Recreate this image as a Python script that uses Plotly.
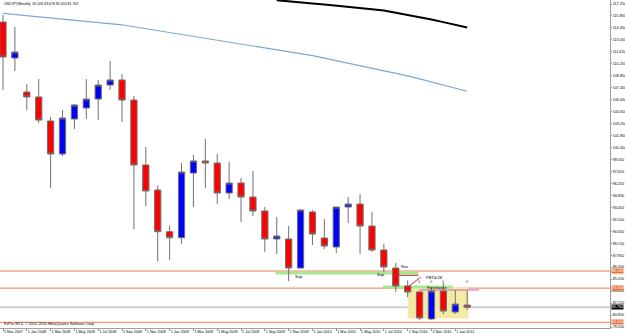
import plotly.graph_objects as go

# ---------------- data ----------------
months = ["Nov 2007", "Dec 2007", "Jan 2008", "Feb 2008", "Mar 2008", "Apr 2008", "May 2008", "Jun 2008",
          "Jul 2008", "Aug 2008", "Sep 2008", "Oct 2008", "Nov 2008", "Dec 2008", "Jan 2009", "Feb 2009",
          "Mar 2009", "Apr 2009", "May 2009", "Jun 2009", "Jul 2009", "Aug 2009", "Sep 2009", "Oct 2009",
          "Nov 2009", "Dec 2009", "Jan 2010", "Feb 2010", "Mar 2010", "Apr 2010", "May 2010", "Jun 2010",
          "Jul 2010", "Aug 2010", "Sep 2010", "Oct 2010", "Nov 2010", "Dec 2010", "Jan 2011", "Feb 2011"]

opens = [115.14, 110.93, 106.95, 106.37, 103.56, 99.70, 103.79, 105.08, 106.13, 107.77, 108.36, 106.01,
         98.41, 95.48, 90.60, 89.90, 97.47, 98.88, 98.64, 95.13, 96.30, 94.66, 93.03, 89.75,
         89.75, 86.35, 92.91, 89.87, 88.81, 93.49, 93.84, 91.27, 88.46, 86.35, 84.25, 83.55,
         80.39, 83.66, 81.21, 82.02]
highs = [115.96, 114.56, 107.89, 108.47, 104.03, 104.85, 105.55, 108.47, 108.36, 110.58, 109.06, 106.48,
         100.51, 96.00, 91.30, 98.64, 99.58, 101.45, 99.70, 98.76, 96.89, 97.71, 93.49, 92.32,
         91.27, 93.20, 93.14, 92.09, 93.50, 94.66, 95.01, 92.91, 89.16, 86.94, 84.90, 83.70,
         84.10, 84.60, 83.78, 83.68]
lows = [107.19, 109.41, 104.84, 103.30, 95.72, 99.46, 102.62, 103.79, 103.67, 107.19, 103.44, 90.90,
        93.60, 87.10, 87.30, 89.20, 93.50, 95.72, 93.84, 94.43, 91.74, 92.44, 88.23, 87.99,
        84.83, 86.30, 89.05, 88.58, 88.11, 91.62, 87.99, 88.23, 85.89, 83.55, 82.96, 80.25,
        80.27, 80.97, 80.97, 81.44]
closes = [111.05, 111.63, 106.37, 103.67, 99.70, 103.91, 105.43, 106.13, 107.77, 108.36, 106.01, 98.41,
          95.37, 90.60, 89.90, 97.59, 98.88, 98.64, 95.13, 96.30, 94.66, 93.03, 89.75, 90.10,
          86.35, 93.14, 90.33, 88.93, 93.49, 93.84, 91.27, 88.46, 86.47, 84.25, 83.55, 80.50,
          83.66, 81.32, 82.14, 81.76]

ma_blue = [116.16, 116.03, 115.90, 115.78, 115.65, 115.51, 115.38, 115.25, 115.12, 114.98, 114.82, 114.59,
           114.37, 114.14, 113.91, 113.69, 113.47, 113.25, 113.03, 112.80, 112.59, 112.37, 112.16, 111.94,
           111.73, 111.50, 111.21, 110.92, 110.63, 110.33, 110.04, 109.75, 109.46, 109.16, 108.84, 108.48,
           108.12, 107.76, 107.41, 107.04]
ma_black = [None] * 23 + [117.70, 117.55, 117.42, 117.31, 117.19, 117.07, 116.93, 116.79, 116.65,
                          116.48, 116.23, 115.99, 115.74, 115.44, 115.13, 114.83, 114.51]

x_tick_labels = ["1 Nov 2007", "1 Jan 2008", "1 Mar 2008", "1 May 2008", "1 Jul 2008", "1 Sep 2008",
                 "1 Nov 2008", "1 Jan 2009", "1 Mar 2009", "1 May 2009", "1 Jul 2009", "1 Sep 2009",
                 "1 Nov 2009", "1 Jan 2010", "1 Mar 2010", "1 May 2010", "1 Jul 2010", "1 Sep 2010",
                 "1 Nov 2010", "1 Jan 2011"]
y_tick_values = [117.25, 115.85, 114.45, 113.05, 111.65, 110.25, 108.85, 107.45, 106.05, 104.65, 103.25,
                 101.85, 100.45, 99.05, 97.65, 96.25, 94.85, 93.45, 92.05, 90.65, 89.25, 87.85, 86.45,
                 85.05, 83.65, 82.25, 80.85, 79.45]

level_lines = [86.0, 84.0, 80.0]       # orange horizontal lines
bid_price = 81.762
title_text = "USDJPY,Monthly  82.026 83.678 81.610 81.762"
copyright_text = "FxPro MT4, \u00a9 2001-2010 MetaQuotes Software Corp."

xs = list(range(len(months)))

FONT = "Liberation Sans"
TXT = "#000000"
FS = 3.7

fig = go.Figure()

fig.add_trace(go.Candlestick(
    x=xs, open=opens, high=highs, low=lows, close=closes,
    increasing=dict(fillcolor="#0000FF", line=dict(color="#707070", width=1)),
    decreasing=dict(fillcolor="#FF0000", line=dict(color="#707070", width=1)),
    whiskerwidth=0, hoverinfo="skip", showlegend=False))

fig.add_trace(go.Scatter(x=xs, y=ma_blue, mode="lines",
                         line=dict(color="#7FA6CE", width=1.2), hoverinfo="skip", showlegend=False))
fig.add_trace(go.Scatter(x=xs, y=ma_black, mode="lines",
                         line=dict(color="#000000", width=2), hoverinfo="skip", showlegend=False))

shapes = []
shapes.append(dict(type="rect", xref="x", yref="y", x0=34, x1=39.1, y0=80.45, y1=84.1,
                   fillcolor="#F3EAA4", line=dict(width=0), layer="below"))
shapes.append(dict(type="line", xref="x", yref="y", x0=22.9, x1=34.9, y0=85.78, y1=85.78,
                   line=dict(color="#A8E890", width=3), layer="below"))
shapes.append(dict(type="line", xref="x", yref="y", x0=31.9, x1=37.8, y0=84.13, y1=84.13,
                   line=dict(color="#A8E890", width=3), layer="below"))
for lv in level_lines:
    shapes.append(dict(type="line", xref="paper", yref="y", x0=0, x1=1, y0=lv, y1=lv,
                       line=dict(color="#EE7C4C", width=1), layer="below"))
shapes.append(dict(type="line", xref="paper", yref="y", x0=0, x1=1, y0=bid_price, y1=bid_price,
                   line=dict(color="#CDD0D6", width=2), layer="below"))
shapes.append(dict(type="line", xref="x", yref="y", x0=35, x1=40, y0=83.78, y1=83.78,
                   line=dict(color="#C860C8", width=1), layer="below"))
shapes.append(dict(type="line", xref="x", yref="y", x0=32.9, x1=34.9, y0=85.5, y1=85.5,
                   line=dict(color="#B03030", width=1)))
shapes.append(dict(type="line", xref="x", yref="y", x0=34.0, x1=35.1, y0=84.1, y1=85.3,
                   line=dict(color="#B03030", width=1)))

annotations = []
annotations.append(dict(xref="paper", yref="paper", x=0.004, y=0.988, text=title_text,
                        showarrow=False, xanchor="left", yanchor="middle",
                        font=dict(family=FONT, size=3.5, color=TXT)))
annotations.append(dict(xref="paper", yref="paper", x=0.004, y=0.012, text=copyright_text,
                        showarrow=False, xanchor="left", yanchor="middle",
                        font=dict(family=FONT, size=3.8, color=TXT)))
for txt, xx, yy in [("Sup", 24.9, 85.4), ("Sup", 31.8, 85.6), ("Res", 33.7, 86.5),
                    ("PBT&CB", 36.2, 85.2), ("Resistance", 36.5, 84.1)]:
    annotations.append(dict(xref="x", yref="y", x=xx, y=yy, text=txt, showarrow=False,
                            xanchor="center", yanchor="middle",
                            font=dict(family=FONT, size=4, color=TXT)))
for xx in [35, 36, 37, 39]:
    annotations.append(dict(xref="x", yref="y", x=xx, y=84.75, text="0", showarrow=False,
                            font=dict(family=FONT, size=4, color="#444444")))
for lv in level_lines:
    annotations.append(dict(xref="paper", yref="y", x=1.0, y=lv, text="%.3f" % lv, showarrow=False,
                            xanchor="left", yanchor="middle", xshift=1, bgcolor="#E8703A",
                            borderpad=0, font=dict(family=FONT, size=FS, color="#FFFFFF")))
annotations.append(dict(xref="paper", yref="y", x=1.0, y=bid_price, text="%.3f" % bid_price,
                        showarrow=False, xanchor="left", yanchor="middle", xshift=1, bgcolor="#000000",
                        borderpad=0, font=dict(family=FONT, size=FS, color="#FFFFFF")))

fig.update_layout(
    width=625, height=334,
    margin=dict(l=0, r=15, t=0, b=6, autoexpand=False),
    paper_bgcolor="#FFFFFF", plot_bgcolor="#FFFFFF",
    shapes=shapes, annotations=annotations,
    boxgap=0.25,
    xaxis=dict(range=[-0.252, 51.0], rangeslider=dict(visible=False), showgrid=False, zeroline=False,
               tickmode="array", tickvals=xs[::2], ticktext=x_tick_labels, tickangle=0, automargin=False,
               ticks="outside", ticklen=2, tickcolor="#909090", ticklabelposition="outside right",
               tickfont=dict(family=FONT, size=FS, color=TXT),
               showline=True, linecolor="#A0A0A0", linewidth=1, mirror=True),
    yaxis=dict(range=[79.333, 117.72], side="right", showgrid=False, zeroline=False, automargin=False,
               tickmode="array", tickvals=y_tick_values, ticktext=["%.3f" % v for v in y_tick_values],
               ticks="outside", ticklen=1, tickcolor="#909090",
               tickfont=dict(family=FONT, size=FS, color=TXT),
               showline=True, linecolor="#A0A0A0", linewidth=1, mirror=True),
)

fig.write_html("out.html")
